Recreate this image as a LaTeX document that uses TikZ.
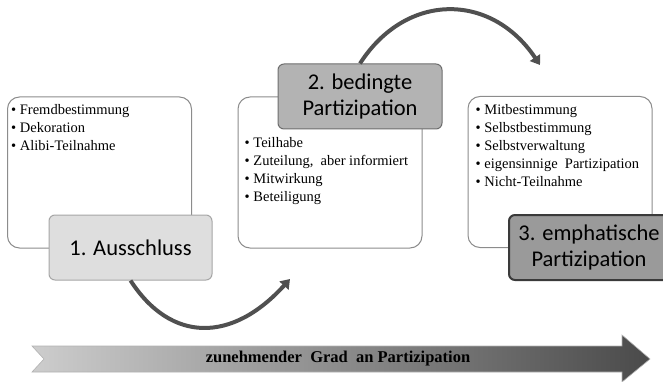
\documentclass[tikz,border=0pt]{standalone}
\usepackage{fontspec}
\setmainfont{Liberation Serif}
\newfontfamily\labelfont{Carlito}
\usetikzlibrary{arrows.meta}

\definecolor{boxline}{HTML}{8C8C8C}
\definecolor{stepone}{HTML}{DEDEDE}
\definecolor{steponeline}{HTML}{A6A6A6}
\definecolor{steptwo}{HTML}{B3B3B3}
\definecolor{steptwoline}{HTML}{6E6E6E}
\definecolor{stepthree}{HTML}{9A9A9A}
\definecolor{stepthreeline}{HTML}{3A3A3A}
\definecolor{curvecol}{HTML}{505050}
\definecolor{arrowlight}{HTML}{CDCDCD}
\definecolor{arrowdark}{HTML}{4A4A4A}

\begin{document}
\begin{tikzpicture}[
            x=1pt, y=-1pt,
            listbox/.style={draw=boxline, line width=1pt, fill=white, rounded corners=12pt,
                    minimum width=184pt, minimum height=151pt},
            itemlist/.style={anchor=north west, align=left, inner sep=0pt,
                    font=\fontsize{14.5}{18}\selectfont},
            steplabel/.style={rounded corners=6pt, line width=1pt, align=center,
                    minimum width=163pt, minimum height=65pt, inner sep=0pt,
                    font=\labelfont\fontsize{22.5}{26}\selectfont},
            curvearrow/.style={draw=curvecol, line width=4pt,
                    -{Triangle[length=9pt,width=12pt]}}
        ]
        \useasboundingbox (0,0) rectangle (663,382);

        \node[listbox] (box1) at (99.5,172.5) {};
        \node[listbox] (box2) at (330,172.5) {};
        \node[listbox] (box3) at (560,172) {};

        \node[itemlist] (list1) at ([xshift=4pt,yshift=-8pt]box1.north west)
            {• Fremdbestimmung\\• Dekoration\\• Alibi-Teilnahme};
        \node[itemlist] (list2) at ([xshift=7pt,yshift=-41pt]box2.north west)
            {• Teilhabe\\• Zuteilung,\ \ aber informiert\\• Mitwirkung\\• Beteiligung};
        \node[itemlist] (list3) at ([xshift=8pt,yshift=-8pt]box3.north west)
            {• Mitbestimmung\\• Selbstbestimmung\\• Selbstverwaltung\\• eigensinnige\ \ Partizipation\\• Nicht-Teilnahme};

        \node[steplabel, fill=stepone, draw=steponeline] (step1) at (130.5,247.5) {1. Ausschluss};
        \node[steplabel, fill=steptwo, draw=steptwoline, minimum width=164pt] (step2) at (360,96.5)
            {2. bedingte\\Partizipation};
        \node[steplabel, fill=stepthree, draw=stepthreeline, line width=2pt, minimum width=160pt] (step3) at (589,247.5)
            {3. emphatische\\Partizipation};

        \coordinate (tip1) at (290,279);
        \coordinate (tip2) at (540,65);
        \draw[curvearrow] (step1.south) .. controls (171,343) and (232,343) .. (tip1);
        \draw[curvearrow] (step2.north) .. controls (406,-8) and (491,-8) .. (tip2);

        \shadedraw[left color=arrowlight, right color=arrowdark, draw=gray!60, line width=0.6pt]
            (32,346) -- (622,346) -- (622,335) -- (650,359) -- (622,382) -- (622,372)
            -- (32,372) -- (44,359) -- cycle;
        \node[font=\bfseries\fontsize{16.5}{18}\selectfont] (grad) at (338,359)
            {zunehmender\ \ Grad\ \ an Partizipation};
    \end{tikzpicture}
\end{document}
